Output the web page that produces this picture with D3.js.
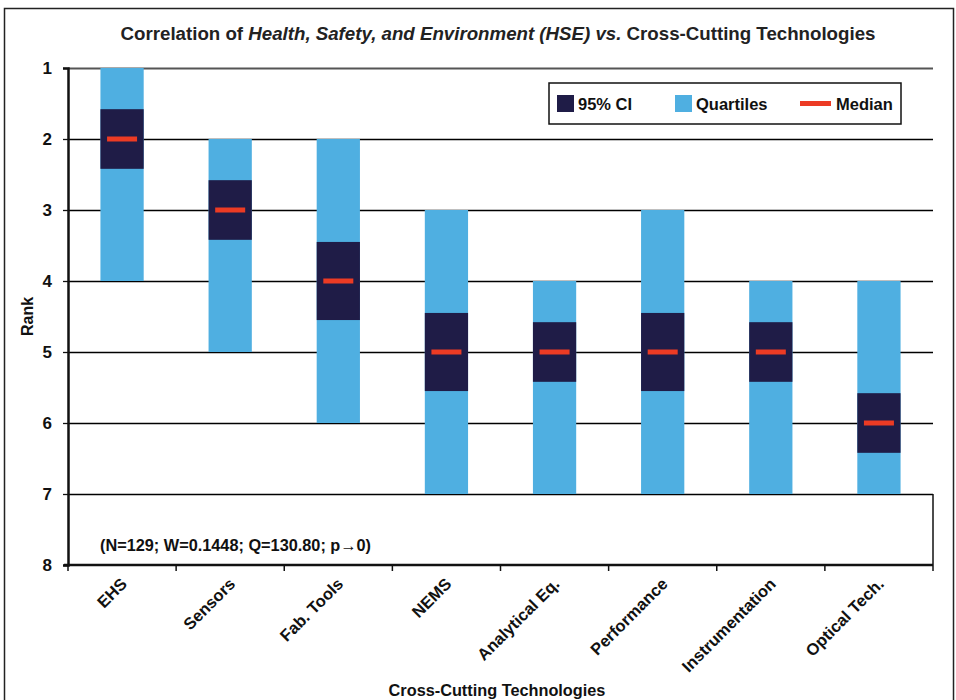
<!DOCTYPE html>
<html>
<head>
<meta charset="utf-8">
<script src="https://cdn.jsdelivr.net/npm/d3@7"></script>
<style>
  body { margin: 0; background: #fff; }
  text { font-family: "Liberation Sans", Arial, sans-serif; }
</style>
</head>
<body>
<div class="hse-chart"></div>
<script>
const width = 956
const height = 700
const margin = { top: 68, right: 23, bottom: 135, left: 68 }

// data (ranks)
const technologies = ["EHS", "Sensors", "Fab. Tools", "NEMS", "Analytical Eq.", "Performance", "Instrumentation", "Optical Tech."]
const quartileLow = [1, 2, 2, 3, 4, 3, 4, 4]
const quartileHigh = [4, 5, 6, 7, 7, 7, 7, 7]
const ciLow = [1.58, 2.58, 3.45, 4.45, 4.58, 4.45, 4.58, 5.58]
const ciHigh = [2.42, 3.42, 4.55, 5.55, 5.42, 5.55, 5.42, 6.42]
const medians = [2, 3, 4, 5, 5, 5, 5, 6]
const rankTicks = [1, 2, 3, 4, 5, 6, 7, 8]

const colQuart = "#4fafe1"
const colCI = "#1f1c47"
const colMed = "#ec3b24"

const rows = technologies.map((t, i) => ({
    tech: t,
    qLo: quartileLow[i],
    qHi: quartileHigh[i],
    cLo: ciLow[i],
    cHi: ciHigh[i],
    med: medians[i]
}))

const svg = d3.select(".hse-chart")
    .append("svg")
    .attr("width", width)
    .attr("height", height)

// outer frame
svg.append("rect")
    .attr("x", 4.5)
    .attr("y", 8.5)
    .attr("width", 949)
    .attr("height", 700)
    .attr("fill", "none")
    .attr("stroke", "#222")
    .attr("stroke-width", 1.5)

const x = d3.scaleBand()
    .domain(technologies)
    .range([margin.left, width - margin.right])
    .paddingInner(0.6)
    .paddingOuter(0.3)

const xEdge = d3.scaleLinear()
    .domain([0, technologies.length])
    .range([margin.left, width - margin.right])

const y = d3.scaleLinear()
    .domain([1, 8])
    .range([margin.top, height - margin.bottom])

// grid lines
svg.append("g")
    .selectAll("line")
    .data(rankTicks.slice(0, -1))
    .join("line")
    .attr("x1", margin.left)
    .attr("x2", width - margin.right)
    .attr("y1", d => y(d) + 0.5)
    .attr("y2", d => y(d) + 0.5)
    .attr("stroke", d => d === 1 ? "#555" : "#000")
    .attr("stroke-width", d => d === 1 ? 2 : 1.3)

// quartile bars
svg.append("g")
    .selectAll("rect")
    .data(rows)
    .join("rect")
    .attr("x", d => x(d.tech))
    .attr("width", x.bandwidth())
    .attr("y", d => y(d.qLo))
    .attr("height", d => y(d.qHi) - y(d.qLo))
    .attr("fill", colQuart)

// CI boxes
svg.append("g")
    .selectAll("rect")
    .data(rows)
    .join("rect")
    .attr("x", d => x(d.tech))
    .attr("width", x.bandwidth())
    .attr("y", d => y(d.cLo))
    .attr("height", d => y(d.cHi) - y(d.cLo))
    .attr("fill", colCI)

// medians
svg.append("g")
    .selectAll("rect")
    .data(rows)
    .join("rect")
    .attr("x", d => x(d.tech) + x.bandwidth() / 2 - 15)
    .attr("width", 30)
    .attr("y", d => y(d.med) - 2.5)
    .attr("height", 5)
    .attr("fill", colMed)

// right border of plot
svg.append("line")
    .attr("x1", width - margin.right)
    .attr("x2", width - margin.right)
    .attr("y1", y(7))
    .attr("y2", y(8))
    .attr("stroke", "#111")
    .attr("stroke-width", 1.5)

// y axis
const yAxis = svg.append("g")
    .attr("transform", `translate(${margin.left}, 0)`)
    .call(d3.axisLeft(y).tickValues(rankTicks).tickSize(5).tickFormat(d3.format("d")))
yAxis.select(".domain").attr("stroke", "#111").attr("stroke-width", 2.5)
yAxis.selectAll(".tick line").attr("stroke", "#111").attr("stroke-width", 1.3)
yAxis.selectAll(".tick text")
    .attr("font-size", 17)
    .attr("font-weight", "bold")
    .attr("fill", "#111")
    .attr("x", -16)

// x axis with ticks at category edges
svg.append("line")
    .attr("x1", margin.left - 4)
    .attr("x2", width - margin.right)
    .attr("y1", y(8))
    .attr("y2", y(8))
    .attr("stroke", "#111")
    .attr("stroke-width", 2.5)

svg.append("g")
    .selectAll("line")
    .data(d3.range(technologies.length + 1))
    .join("line")
    .attr("x1", d => xEdge(d))
    .attr("x2", d => xEdge(d))
    .attr("y1", y(8))
    .attr("y2", y(8) + 6)
    .attr("stroke", "#111")
    .attr("stroke-width", 1.5)

svg.append("g")
    .selectAll("text")
    .data(technologies)
    .join("text")
    .attr("transform", d => `translate(${x(d) + x.bandwidth() / 2 + 6}, ${y(8) + 20}) rotate(-45)`)
    .attr("text-anchor", "end")
    .attr("font-size", 16.5)
    .attr("font-weight", "bold")
    .attr("fill", "#111")
    .text(d => d)

// titles
const title = svg.append("text")
    .attr("x", 498)
    .attr("y", 40)
    .attr("text-anchor", "middle")
    .attr("font-size", 18.7)
    .attr("font-weight", "bold")
    .attr("fill", "#222")
title.append("tspan").text("Correlation of ")
title.append("tspan").attr("font-style", "italic").text("Health, Safety, and Environment (HSE) vs.")
title.append("tspan").text(" Cross-Cutting Technologies")

svg.append("text")
    .attr("transform", `translate(33, ${y(4.5)}) rotate(-90)`)
    .attr("text-anchor", "middle")
    .attr("font-size", 16)
    .attr("font-weight", "bold")
    .attr("fill", "#111")
    .text("Rank")

svg.append("text")
    .attr("x", 497)
    .attr("y", 696)
    .attr("text-anchor", "middle")
    .attr("font-size", 16.3)
    .attr("font-weight", "bold")
    .attr("fill", "#111")
    .text("Cross-Cutting Technologies")

svg.append("text")
    .attr("x", 100)
    .attr("y", 551)
    .attr("font-size", 16.3)
    .attr("font-weight", "bold")
    .attr("fill", "#111")
    .text("(N=129; W=0.1448; Q=130.80; p\u21920)")

// legend
const legend = svg.append("g").attr("transform", "translate(549, 83)")
legend.append("rect")
    .attr("width", 352)
    .attr("height", 41)
    .attr("fill", "#fff")
    .attr("stroke", "#111")
    .attr("stroke-width", 1.5)

const legendItems = [
    { label: "95% CI", color: colCI, type: "box", x: 8 },
    { label: "Quartiles", color: colQuart, type: "box", x: 126 },
    { label: "Median", color: colMed, type: "line", x: 251 }
]

legend.selectAll("rect.key")
    .data(legendItems)
    .join("rect")
    .attr("class", "key")
    .attr("x", d => d.x)
    .attr("y", d => d.type === "box" ? 12 : 18)
    .attr("width", d => d.type === "box" ? 17 : 31)
    .attr("height", d => d.type === "box" ? 17 : 5)
    .attr("fill", d => d.color)

legend.selectAll("text")
    .data(legendItems)
    .join("text")
    .attr("x", d => d.x + (d.type === "box" ? 21 : 36))
    .attr("y", 27)
    .attr("font-size", 16.5)
    .attr("font-weight", "bold")
    .attr("fill", "#111")
    .text(d => d.label)
</script>
</body>
</html>
